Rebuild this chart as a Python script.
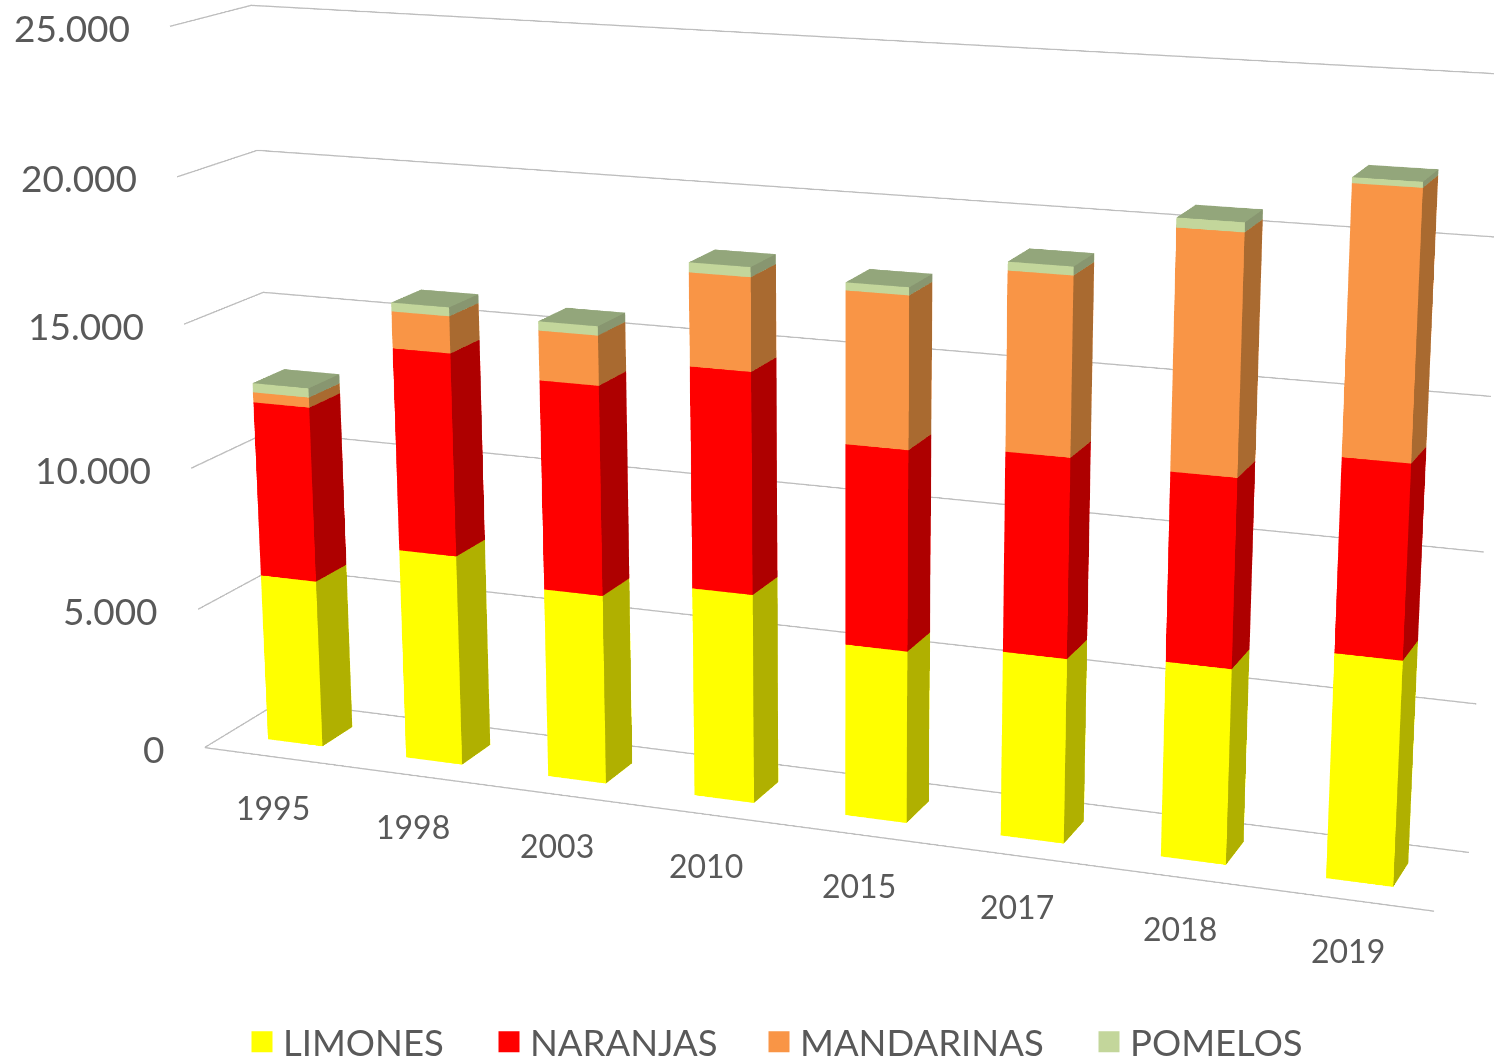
import numpy as np, plotly.graph_objects as go

years = ["1995","1998","2003","2010","2015","2017","2018","2019"]
limones = [5950,7400,6590,7200,5870,6230,6510,7400]
naranjas = [6130,7000,7170,7480,6710,6600,6180,6250]
mandarinas = [350,1260,1680,3100,5020,5810,7680,8440]
pomelos = [320,300,310,330,260,280,310,180]
names = ["LIMONES","NARANJAS","MANDARINAS","POMELOS"]
base = ["#FFFF00","#FF0000","#F99546","#C3D69B"]
side = ["#B0B000","#AE0000","#A96A30","#889670"]
top_col = ["#B0B000","#AE0000","#A96A30","#93A67B"]
ticks = [0,5000,10000,15000,20000,25000]
legend_left = [249,496,766,1096]

# The reference is a long-lens view: plotly's fixed 45 degree field needs a
# taller canvas to reach that focal length, so the graph div is offset below.
WIN_W,WIN_H = 1494,1059
FW,FH = 3000,3066
OFF_X,OFF_Y = 660,1036
EYE = (0.9747,-2.5206,0.6941)
CEN = (-0.0488,0.1913,-0.1032)
UPX = 0.0018
ASPECT = (1,0.1251,0.5821)
HALF_W = 0.199
Y0,Y1 = 0.2904,0.6987
ZMAX = ticks[-1]
NCAT = len(years)

fig = go.Figure()
cum = np.zeros(NCAT)
for si,vals in enumerate([limones,naranjas,mandarinas,pomelos]):
    vx,vy,vz,I,J,K,fc = [],[],[],[],[],[],[]
    for i,v in enumerate(vals):
        n = len(vx)
        x0,x1 = i+.5-HALF_W,i+.5+HALF_W
        z0,z1 = cum[i],cum[i]+v
        for a in (x0,x1):
            for b in (Y0,Y1):
                for c in (z0,z1):
                    vx.append(a); vy.append(b); vz.append(c)
        quads = [((0,4,5,1),base[si]),((4,6,7,5),side[si]),((1,5,7,3),top_col[si]),
                 ((0,1,3,2),base[si]),((2,3,7,6),base[si]),((0,2,6,4),base[si])]
        for q,col in quads:
            for t in ((q[0],q[1],q[2]),(q[0],q[2],q[3])):
                I.append(n+t[0]); J.append(n+t[1]); K.append(n+t[2]); fc.append(col)
    cum = cum+np.array(vals)
    fig.add_trace(go.Mesh3d(x=vx,y=vy,z=vz,i=I,j=J,k=K,facecolor=fc,flatshading=True,hoverinfo="skip",
        name=names[si],legendgroup=names[si],showlegend=False,
        lighting=dict(ambient=1,diffuse=0,specular=0,fresnel=0,roughness=1)))

for si,nm in enumerate(names):
    lg = "legend" if si==0 else f"legend{si+1}"
    fig.add_trace(go.Scatter3d(x=[None],y=[None],z=[None],mode="markers",name=nm,legendgroup=nm,legend=lg,showlegend=True,
        marker=dict(symbol="square",size=16,color=base[si],line=dict(color=base[si],width=5))))

# gridlines along the left and back walls, plus the front floor edge
gx,gy,gz = [0,NCAT,None],[0,0,None],[0,0,None]
for v in ticks:
    gx += [0,0,NCAT,None]; gy += [0,1,1,None]; gz += [v,v,v,None]
fig.add_trace(go.Scatter3d(x=gx,y=gy,z=gz,mode="lines",line=dict(color="#BDBDBD",width=2.5),showlegend=False,hoverinfo="skip"))

ann = [dict(x=i+.5,y=0,z=0,text=t,showarrow=False,yshift=-51,font=dict(family="Lato",size=32,color="#595959")) for i,t in enumerate(years)]
ann += [dict(x=0,y=0,z=min(v,ZMAX-1),text=f"{v:,}".replace(",","."),showarrow=False,xanchor="right",xshift=-38,yshift=-1,
             font=dict(family="Lato",size=37,color="#595959")) for v in ticks]
off = dict(showgrid=False,showticklabels=False,showline=False,zeroline=False,showbackground=False,showspikes=False,title="",ticks="")
layout = dict(width=FW,height=FH,margin=dict(l=0,r=0,t=0,b=0,autoexpand=False),paper_bgcolor="white",showlegend=True,
    scene=dict(domain=dict(x=[0,1],y=[0,1]),annotations=ann,
      xaxis=dict(off,range=[0,NCAT],autorange=False),yaxis=dict(off,range=[0,1],autorange=False),
      zaxis=dict(off,range=[0,ZMAX],autorange=False,tickvals=ticks),
      aspectmode="manual",aspectratio=dict(x=ASPECT[0],y=ASPECT[1],z=ASPECT[2]),
      camera=dict(eye=dict(x=EYE[0],y=EYE[1],z=EYE[2]),center=dict(x=CEN[0],y=CEN[1],z=CEN[2]),up=dict(x=UPX,y=0,z=1),projection=dict(type="perspective"))))
for si in range(4):
    k = "legend" if si==0 else f"legend{si+1}"
    layout[k] = dict(x=(legend_left[si]-8+OFF_X)/FW,y=1-(1042+OFF_Y)/FH,xanchor="left",yanchor="middle",bgcolor="rgba(0,0,0,0)",
                     font=dict(family="Lato",size=36.5,color="#595959"),itemwidth=32)
fig.update_layout(**layout)
post = ("var g=document.getElementById('{plot_id}');g.style.position='absolute';"
        f"g.style.left='-{OFF_X}px';g.style.top='-{OFF_Y}px';"
        "document.documentElement.style.overflow='hidden';document.body.style.overflow='hidden';")
fig.write_html("out.html",config=dict(displayModeBar=False),post_script=post)
